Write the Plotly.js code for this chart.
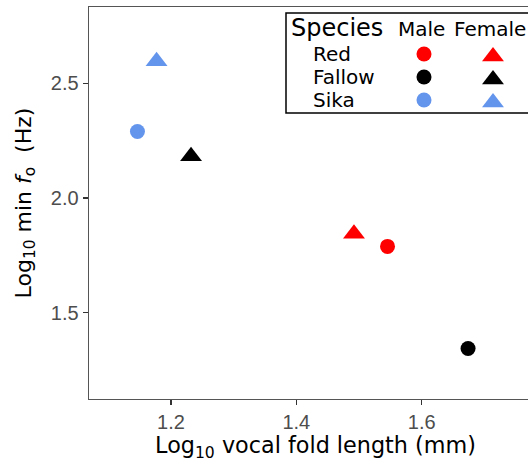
<!DOCTYPE html>
<html>
<head>
<meta charset="utf-8">
<script src="https://cdn.plot.ly/plotly-3.0.1.min.js"></script>
<style>
html,body{margin:0;padding:0;overflow:hidden;background:#fff;}
#chart{width:542px;height:462px;}
</style>
</head>
<body>
<div id="chart"></div>
<script>
// ---- data ----
const species = ['Red', 'Fallow', 'Sika'];
const speciesColors = ['#FF0000', '#000000', '#6495ED'];
const maleFoldLength = [1.5455, 1.674, 1.1465];
const maleMinF0 = [1.789, 1.344, 2.290];
const femaleFoldLength = [1.492, 1.232, 1.177];
const femaleMinF0 = [1.844, 2.182, 2.596];
const xTickVals = [1.2, 1.4, 1.6];
const yTickVals = [1.5, 2.0, 2.5];
const sexLabels = ['Male', 'Female'];
const legendTitle = 'Species';

// ---- layout constants (pixels) ----
const W = 542, H = 462;
const M = {l: 89, r: 0, t: 7, b: 63};
const LEG = {left: 286, right: 536, top: 13, bottom: 113,
  titleX: 289, titleY: 28, colX: [421, 490], markX: [424, 493],
  labelX: 311, rowY: [54, 77, 100], triOffset: 2.5};

const axisFontTitle = {family: 'DejaVu Sans', size: 22, color: '#000'};
const tickFont = {family: 'Liberation Sans, Arial', size: 20, color: '#4d4d4d'};

const traces = [
  {x: maleFoldLength, y: maleMinF0, type: 'scatter', mode: 'markers',
   marker: {symbol: 'circle', size: 15, color: speciesColors}, hoverinfo: 'none', showlegend: false},
  {x: femaleFoldLength, y: femaleMinF0, type: 'scatter', mode: 'markers',
   marker: {symbol: 'triangle-up', size: 19, color: speciesColors}, hoverinfo: 'none', showlegend: false},
  // legend keys on a pixel-space overlay axis
  {x: species.map(() => LEG.markX[0]), y: LEG.rowY, xaxis: 'x2', yaxis: 'y2', type: 'scatter', mode: 'markers',
   marker: {symbol: 'circle', size: 15, color: speciesColors}, hoverinfo: 'none', showlegend: false},
  {x: species.map(() => LEG.markX[1]), y: LEG.rowY.map(v => v + LEG.triOffset), xaxis: 'x2', yaxis: 'y2', type: 'scatter', mode: 'markers',
   marker: {symbol: 'triangle-up', size: 19, color: speciesColors}, hoverinfo: 'none', showlegend: false}
];

const annotations = [
  {xref: 'x2', yref: 'y2', x: LEG.titleX, y: LEG.titleY, text: legendTitle, showarrow: false,
   xanchor: 'left', yanchor: 'middle', font: {family: 'DejaVu Sans', size: 24, color: '#000'}},
  ...sexLabels.map((s, i) => ({xref: 'x2', yref: 'y2', x: LEG.colX[i], y: LEG.titleY + 1, text: s, showarrow: false,
   xanchor: 'center', yanchor: 'middle', font: {family: 'DejaVu Sans', size: 20, color: '#000'}})),
  ...species.map((s, i) => ({xref: 'x2', yref: 'y2', x: LEG.labelX, y: LEG.rowY[i], text: s, showarrow: false,
   xanchor: 'left', yanchor: 'middle', font: {family: 'DejaVu Sans', size: 20, color: '#000'}}))
];

const layout = {
  width: W, height: H, margin: M,
  paper_bgcolor: '#fff', plot_bgcolor: '#fff', showlegend: false,
  xaxis: {range: [1.0692, 1.792], tickvals: xTickVals, ticktext: xTickVals.map(v => v.toFixed(1)),
    showgrid: false, zeroline: false, showline: true, mirror: true, linecolor: '#555', linewidth: 1.4,
    ticks: 'outside', ticklen: 5, tickwidth: 1.3, tickcolor: '#333', tickfont: tickFont,
    title: {text: 'Log<sub>10</sub> vocal fold length (mm)', font: {family: 'DejaVu Sans', size: 22.3, color: '#000'}, standoff: 7}},
  yaxis: {range: [1.1238, 2.8326], tickvals: yTickVals, ticktext: yTickVals.map(v => v.toFixed(1)),
    showgrid: false, zeroline: false, showline: true, mirror: true, linecolor: '#555', linewidth: 1.4,
    ticks: 'outside', ticklen: 5, tickwidth: 1.3, tickcolor: '#333', tickfont: tickFont,
    title: {text: 'Log<sub>10</sub> min <i>f</i><sub>o</sub>  (Hz)', font: axisFontTitle, standoff: 13}},
  xaxis2: {overlaying: 'x', anchor: 'y2', range: [M.l, W - M.r], visible: false, fixedrange: true},
  yaxis2: {overlaying: 'y', anchor: 'x2', range: [H - M.b, M.t], visible: false, fixedrange: true},
  shapes: [
    {type: 'rect', xref: 'x2', yref: 'y2', x0: LEG.left, x1: LEG.right, y0: LEG.top, y1: LEG.bottom,
     line: {color: '#000', width: 1.5}, fillcolor: 'rgba(0,0,0,0)', layer: 'below'}
  ],
  annotations: annotations
};

Plotly.newPlot('chart', traces, layout, {staticPlot: true, displayModeBar: false});
</script>
</body>
</html>
